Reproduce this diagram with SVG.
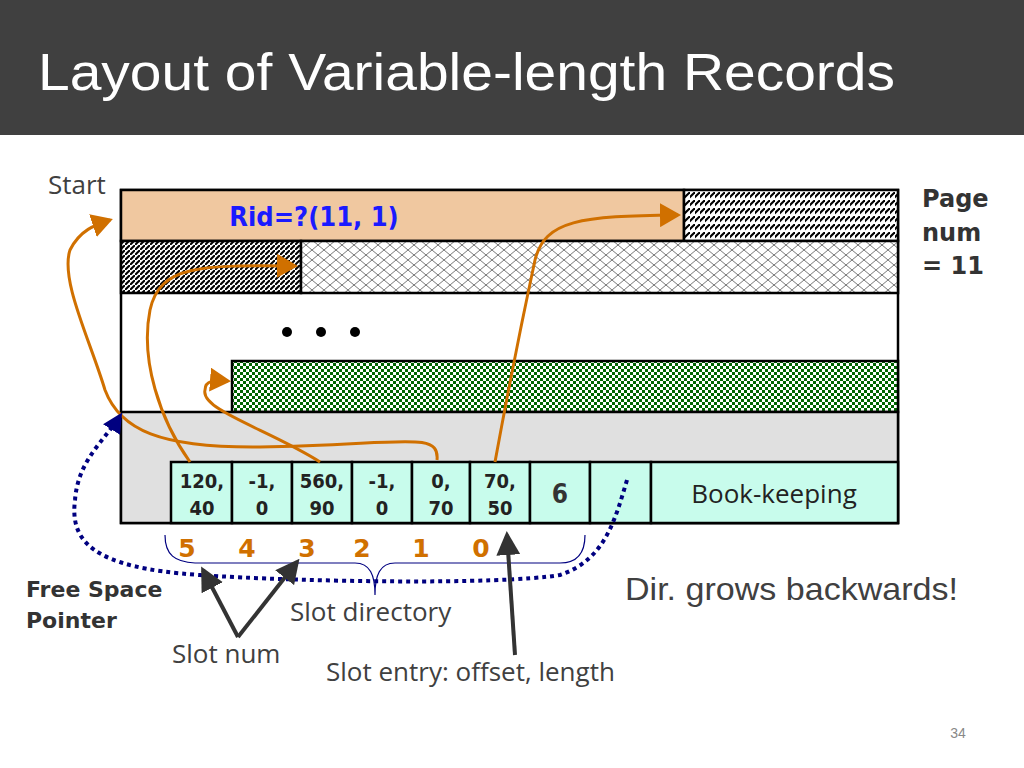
<svg xmlns="http://www.w3.org/2000/svg" width="1024" height="768" viewBox="0 0 1024 768">
<defs>
<pattern id="diag" width="5" height="5" patternUnits="userSpaceOnUse"><rect width="5" height="5" fill="#fff"/><path d="M-1,6 L6,-1" stroke="#000" stroke-width="2"/></pattern>
<pattern id="diagw" width="5" height="8" patternUnits="userSpaceOnUse"><rect width="5" height="8" fill="#fff"/><path d="M-1,6 L6,-1" stroke="#000" stroke-width="2"/><line x1="0" y1="7.5" x2="5" y2="7.5" stroke="#fff" stroke-width="1.5"/></pattern>
<pattern id="cross" width="12" height="10" patternUnits="userSpaceOnUse"><rect width="12" height="10" fill="#fff"/><path d="M0,0 L6,5 L0,10 M6,5 L12,0 M6,5 L12,10" stroke="#555" fill="none" stroke-width="0.8"/></pattern>
<pattern id="check" width="6" height="6" patternUnits="userSpaceOnUse"><rect width="6" height="6" fill="#fff"/><rect width="3" height="3" fill="#006400"/><rect x="3" y="3" width="3" height="3" fill="#006400"/></pattern>
<marker id="oa" markerWidth="8" markerHeight="8" refX="6" refY="4" orient="auto" markerUnits="strokeWidth"><path d="M0,0 L7,4 L0,8 z" fill="#d07000"/></marker>
<marker id="ba" markerWidth="6" markerHeight="6" refX="5" refY="3" orient="auto" markerUnits="strokeWidth"><path d="M0,0 L6,3 L0,6 z" fill="#333"/></marker>
<marker id="na" markerWidth="5" markerHeight="5" refX="4" refY="2.5" orient="auto" markerUnits="strokeWidth"><path d="M0,0 L5,2.5 L0,5 z" fill="#000080"/></marker>
</defs>
<style>
.o{fill:none;stroke:#d07000;stroke-width:3}
.cell{fill:#c8fcec;stroke:#000;stroke-width:2.5}
.ct{font-family:"DejaVu Sans Condensed","DejaVu Sans",sans-serif;font-weight:bold;font-size:20px;fill:#222;text-anchor:middle}
.sn{font-family:"DejaVu Sans",sans-serif;font-weight:bold;font-size:25px;fill:#d07000;text-anchor:middle}
.g{font-family:"Open Sans","DejaVu Sans",sans-serif;font-size:26px;fill:#404040}
.b{font-family:"DejaVu Sans",sans-serif;font-weight:bold;font-size:24px;fill:#333}
</style>
<rect width="1024" height="768" fill="#fff"/>
<rect width="1024" height="135" fill="#404040"/>
<text x="38" y="90" font-family="Liberation Sans,Arial,sans-serif" font-size="52" fill="#fff" textLength="857" lengthAdjust="spacingAndGlyphs">Layout of Variable-length Records</text>
<g id="page">
<rect x="121" y="190" width="777" height="333" fill="#fff" stroke="#000" stroke-width="2.5"/>
<rect x="121" y="190" width="563" height="51" fill="#f0c8a0" stroke="#000" stroke-width="2.5"/>
<rect x="684" y="190" width="214" height="51" fill="url(#diagw)" stroke="#000" stroke-width="2.5"/>
<rect x="121" y="241" width="180" height="52" fill="url(#diag)" stroke="#000" stroke-width="2.5"/>
<rect x="301" y="241" width="597" height="52" fill="url(#cross)" stroke="#000" stroke-width="2.5"/>
<rect x="232" y="361" width="666" height="51" fill="url(#check)" stroke="#000" stroke-width="2.5"/>
<rect x="121" y="412" width="777" height="111" fill="#e0e0e0" stroke="#000" stroke-width="2.5"/>
<text x="314" y="226" font-family="'DejaVu Sans Condensed','DejaVu Sans',sans-serif" font-weight="bold" font-size="27" fill="#1a1aff" text-anchor="middle">Rid=?(11, 1)</text>
<circle cx="287" cy="332" r="5"/><circle cx="321" cy="332" r="5"/><circle cx="355" cy="332" r="5"/>
</g>
<g id="cells">
<rect class="cell" x="171" y="462" width="61" height="61"/>
<rect class="cell" x="232" y="462" width="60" height="61"/>
<rect class="cell" x="292" y="462" width="60" height="61"/>
<rect class="cell" x="352" y="462" width="60" height="61"/>
<rect class="cell" x="412" y="462" width="58" height="61"/>
<rect class="cell" x="470" y="462" width="60" height="61"/>
<rect class="cell" x="530" y="462" width="60" height="61"/>
<rect class="cell" x="590" y="462" width="61" height="61"/>
<rect class="cell" x="651" y="462" width="247" height="61"/>
<text class="ct" x="202" y="488">120,</text><text class="ct" x="202" y="515">40</text>
<text class="ct" x="262" y="488">-1,</text><text class="ct" x="262" y="515">0</text>
<text class="ct" x="322" y="488">560,</text><text class="ct" x="322" y="515">90</text>
<text class="ct" x="382" y="488">-1,</text><text class="ct" x="382" y="515">0</text>
<text class="ct" x="441" y="488">0,</text><text class="ct" x="441" y="515">70</text>
<text class="ct" x="500" y="488">70,</text><text class="ct" x="500" y="515">50</text>
<text x="560" y="503" font-family="'DejaVu Sans Condensed','DejaVu Sans',sans-serif" font-weight="bold" font-size="26" fill="#333" text-anchor="middle">6</text>
<text x="774" y="503" font-family="'Open Sans','DejaVu Sans',sans-serif" font-size="26" fill="#222" text-anchor="middle">Book-keeping</text>
</g>
<g id="connectors">
<path class="o" d="M437,460 C440,430 400,445 260,447 C160,448 120,430 105,390 C90,340 60,280 70,250 C80,230 95,225 110,220" marker-end="url(#oa)"/>
<path class="o" d="M190,462 C160,420 140,360 150,310 C160,265 200,265 295,266" marker-end="url(#oa)"/>
<path class="o" d="M320,462 C270,430 200,410 205,390 C205,380 215,380 228,381" marker-end="url(#oa)"/>
<path class="o" d="M495,462 C510,380 520,330 535,260 C545,220 580,216 678,215" marker-end="url(#oa)"/>
<path d="M627,480 C615,520 605,560 560,575 C500,585 300,582 200,575 C90,568 70,540 75,500 C78,460 105,440 120,416" fill="none" stroke="#000080" stroke-width="4" stroke-dasharray="4,4" marker-end="url(#na)"/>
<path d="M165,535 C165,555 175,562 195,563 L355,563 C370,563 375,575 375,595 C375,575 380,563 395,563 L560,563 C575,563 585,555 585,535" fill="none" stroke="#000080" stroke-width="1.2"/>
<path d="M238,637 L203,570" stroke="#333" stroke-width="4" marker-end="url(#ba)"/>
<path d="M238,637 L297,562" stroke="#333" stroke-width="4" marker-end="url(#ba)"/>
<path d="M515,655 L507,535" stroke="#333" stroke-width="4" marker-end="url(#ba)"/>
</g>
<g id="labels">
<text class="sn" x="187" y="557">5</text><text class="sn" x="247" y="557">4</text><text class="sn" x="307" y="557">3</text>
<text class="sn" x="362" y="557">2</text><text class="sn" x="421" y="557">1</text><text class="sn" x="481" y="557">0</text>
<text class="g" x="48" y="194">Start</text>
<text class="b" x="922" y="207">Page</text><text class="b" x="922" y="241">num</text><text class="b" x="922" y="274">= 11</text>
<text x="26" y="597" font-family="'DejaVu Sans',sans-serif" font-weight="bold" font-size="22" fill="#333">Free Space</text>
<text x="26" y="628" font-family="'DejaVu Sans',sans-serif" font-weight="bold" font-size="22" fill="#333">Pointer</text>
<text class="g" x="290" y="621">Slot directory</text>
<text class="g" x="172" y="663">Slot num</text>
<text class="g" x="326" y="681">Slot entry: offset, length</text>
<text x="625" y="600" font-family="Liberation Sans,Arial,sans-serif" font-size="32" fill="#404040" textLength="333" lengthAdjust="spacingAndGlyphs">Dir. grows backwards!</text>
<text x="958" y="738" font-family="Liberation Sans,Arial,sans-serif" font-size="14" fill="#888" text-anchor="middle">34</text>
</g>
</svg>
